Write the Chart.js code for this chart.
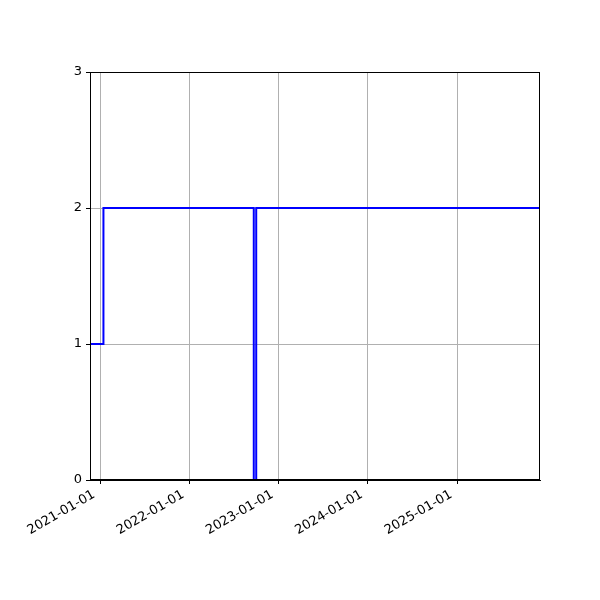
<!DOCTYPE html>
<html>
<head>
<meta charset="utf-8">
<script src="https://cdn.jsdelivr.net/npm/chart.js@4/dist/chart.umd.min.js"></script>
<style>
    html, body { margin: 0; padding: 0; background: #fff; }
</style>
</head>
<body>
<canvas id="chart" width="600" height="600"></canvas>
<script>
// step data: each value holds until the next date
const dates = ['2020-11-21', '2021-01-15', '2022-09-22', '2022-10-02', '2025-12-06'];
const values = [1, 2, 0, 2, 2];
const xTickDates = ['2021-01-01', '2022-01-01', '2023-01-01', '2024-01-01', '2025-01-01'];
const yTicks = [0, 1, 2, 3];

const toMs = d => Date.parse(d + 'T00:00:00Z');
const fmtDate = ms => new Date(ms).toISOString().slice(0, 10);

const points = dates.map((d, i) => ({ x: toMs(d), y: values[i] }));

// matplotlib-style box around the axes
const frame = {
    id: 'frame',
    afterDraw(chart) {
        const { ctx, chartArea: a } = chart;
        ctx.save();
        ctx.strokeStyle = '#000';
        ctx.lineWidth = 1;
        ctx.strokeRect(a.left + 0.5, a.top + 0.5, a.right - a.left - 1, a.bottom - a.top - 1);
        ctx.restore();
    }
};

Chart.defaults.font.family = '"DejaVu Sans", sans-serif';
Chart.defaults.font.size = 13;
Chart.defaults.color = '#000';

new Chart(document.getElementById('chart'), {
    type: 'line',
    data: {
        datasets: [{
            data: points,
            stepped: true,
            borderColor: '#0000ff',
            borderWidth: 2,
            pointRadius: 0,
            fill: false
        }]
    },
    options: {
        responsive: false,
        animation: false,
        devicePixelRatio: 1,
        layout: { padding: { top: 72, right: 60, left: 0, bottom: 0 } },
        plugins: { legend: { display: false }, tooltip: { enabled: false } },
        scales: {
            x: {
                type: 'linear',
                min: toMs(dates[0]),
                max: toMs(dates[dates.length - 1]),
                afterBuildTicks: scale => {
                    scale.ticks = xTickDates.map(d => ({ value: toMs(d) }));
                },
                afterFit: scale => { scale.height = 120; },
                ticks: {
                    callback: v => fmtDate(v),
                    minRotation: 30,
                    maxRotation: 30,
                    padding: 3,
                    labelOffset: -6
                },
                grid: { color: '#b0b0b0', lineWidth: 1, tickColor: '#000', tickLength: 4 },
                border: { color: '#000' }
            },
            y: {
                min: 0,
                max: 3,
                afterBuildTicks: scale => {
                    scale.ticks = yTicks.map(v => ({ value: v }));
                },
                afterFit: scale => { scale.width = 90; },
                ticks: { padding: 4 },
                grid: { color: '#b0b0b0', lineWidth: 1, tickColor: '#000', tickLength: 4 },
                border: { color: '#000' }
            }
        }
    },
    plugins: [frame]
});
</script>
</body>
</html>
